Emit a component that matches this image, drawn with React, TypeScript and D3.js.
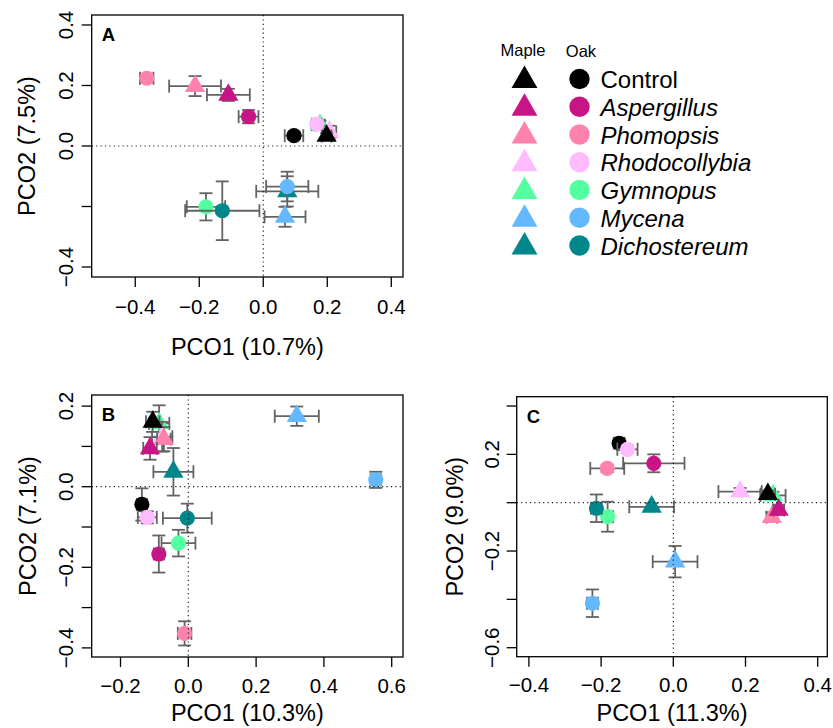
import React from "react"
import * as d3 from "d3"

const groups = ["Control", "Aspergillus", "Phomopsis", "Rhodocollybia", "Gymnopus", "Mycena", "Dichostereum"]
const colors = ["#000000", "#C71585", "#FF82AB", "#FFBBFF", "#54FF9F", "#63B8FF", "#00868B"]

// panel A
const aMapleX = [0.198, -0.109, -0.213, 0.206, 0.177, 0.068, 0.075]
const aMapleY = [0.033, 0.169, 0.198, 0.047, 0.069, -0.234, -0.15]
const aMapleXErr = [0.015, 0.067, 0.081, 0.022, 0.015, 0.064, 0.097]
const aMapleYErr = [0.01, 0.02, 0.033, 0.02, 0.015, 0.033, 0.05]
const aOakX = [0.096, -0.046, -0.364, 0.167, -0.179, 0.075, -0.128]
const aOakY = [0.034, 0.097, 0.224, 0.072, -0.201, -0.134, -0.214]
const aOakXErr = [0.029, 0.031, 0.021, 0.015, 0.06, 0.066, 0.116]
const aOakYErr = [0.012, 0.022, 0.012, 0.012, 0.045, 0.049, 0.097]

// panel B
const bMapleX = [-0.105, -0.113, -0.072, -0.077, -0.086, 0.32, -0.044]
const bMapleY = [0.161, 0.095, 0.118, 0.124, 0.157, 0.175, 0.037]
const bMapleXErr = [0.02, 0.02, 0.02, 0.03, 0.03, 0.065, 0.059]
const bMapleYErr = [0.025, 0.028, 0.03, 0.037, 0.045, 0.024, 0.059]
const bOakX = [-0.137, -0.087, -0.011, -0.121, -0.029, 0.553, -0.003]
const bOakY = [-0.044, -0.167, -0.364, -0.076, -0.14, 0.017, -0.078]
const bOakXErr = [0.015, 0.015, 0.02, 0.028, 0.05, 0.015, 0.072]
const bOakYErr = [0.04, 0.046, 0.03, 0.015, 0.033, 0.02, 0.036]

// panel C
const cMapleX = [0.262, 0.292, 0.273, 0.185, 0.276, 0.005, -0.06]
const cMapleY = [0.035, -0.03, -0.06, 0.046, 0.03, -0.244, -0.017]
const cMapleXErr = [0.02, 0.015, 0.015, 0.06, 0.035, 0.062, 0.062]
const cMapleYErr = [0.015, 0.02, 0.02, 0.015, 0.015, 0.065, 0.015]
const cOakX = [-0.15, -0.054, -0.183, -0.127, -0.182, -0.224, -0.213]
const cOakY = [0.246, 0.163, 0.142, 0.221, -0.058, -0.416, -0.023]
const cOakXErr = [0.015, 0.085, 0.047, 0.028, 0.015, 0.015, 0.015]
const cOakYErr = [0.015, 0.037, 0.015, 0.015, 0.062, 0.057, 0.057]

const aXTicks = [-0.4, -0.2, 0, 0.2, 0.4]
const aYTicks = [-0.4, -0.2, 0, 0.2, 0.4]
const aYLabels = [-0.4, 0, 0.2, 0.4]
const bXTicks = [-0.2, 0, 0.2, 0.4, 0.6]
const bYTicks = [-0.4, -0.3, -0.2, -0.1, 0, 0.1, 0.2]
const bYLabels = [-0.4, -0.2, 0, 0.2]
const cXTicks = [-0.4, -0.2, 0, 0.2, 0.4]
const cYTicks = [-0.6, -0.4, -0.2, 0, 0.2, 0.4]
const cYLabels = [-0.6, -0.2, 0.2]

const font = "'Liberation Sans', Arial, sans-serif"
const fmt = d3.format(".1f")
const errColor = "#636363"
const tri = d3.symbol().type(d3.symbolTriangle).size(178)()
const legendTri = d3.symbol().type(d3.symbolTriangle).size(290)()

type Series = { x: number[]; y: number[]; xe: number[]; ye: number[] }

function ErrBars({ cx, cy, x0, x1, y0, y1 }: any) {
  const cap = 6.5
  return (
    <g stroke={errColor} strokeWidth={1.8} fill="none">
      <line x1={x0} x2={x1} y1={cy} y2={cy} />
      <line x1={x0} x2={x0} y1={cy - cap} y2={cy + cap} />
      <line x1={x1} x2={x1} y1={cy - cap} y2={cy + cap} />
      <line x1={cx} x2={cx} y1={y0} y2={y1} />
      <line x1={cx - cap} x2={cx + cap} y1={y0} y2={y0} />
      <line x1={cx - cap} x2={cx + cap} y1={y1} y2={y1} />
    </g>
  )
}

function Panel(props: any) {
  const { label, box, xDomain, yDomain, xTicks, yTicks, yLabels, xTitle, yTitle, maple, oak, yLabX, yTitleX, xLabY, xTitleY } = props
  const x = d3.scaleLinear().domain(xDomain).range([box.left, box.right])
  const y = d3.scaleLinear().domain(yDomain).range([box.bottom, box.top])
  const m: Series = maple
  const o: Series = oak
  // maple triangles go down in reverse order, oak circles in order
  const mapleOrder = d3.range(groups.length).reverse()
  const oakOrder = d3.range(groups.length)
  const midX = (box.left + box.right) / 2
  const midY = (box.top + box.bottom) / 2
  return (
    <g fontFamily={font}>
      {mapleOrder.map(i => (
        <g key={"m" + i}>
          <ErrBars cx={x(m.x[i])} cy={y(m.y[i])} x0={x(m.x[i] - m.xe[i])} x1={x(m.x[i] + m.xe[i])}
            y0={y(m.y[i] - m.ye[i])} y1={y(m.y[i] + m.ye[i])} />
          <path d={tri!} transform={`translate(${x(m.x[i])},${y(m.y[i])})`} fill={colors[i]} />
        </g>
      ))}
      {oakOrder.map(i => (
        <g key={"o" + i}>
          <ErrBars cx={x(o.x[i])} cy={y(o.y[i])} x0={x(o.x[i] - o.xe[i])} x1={x(o.x[i] + o.xe[i])}
            y0={y(o.y[i] - o.ye[i])} y1={y(o.y[i] + o.ye[i])} />
          <circle cx={x(o.x[i])} cy={y(o.y[i])} r={7.6} fill={colors[i]} />
        </g>
      ))}
      <line x1={box.left} x2={box.right} y1={y(0)} y2={y(0)} stroke="#222" strokeWidth={1.2} strokeDasharray="1.2,3.2" />
      <line x1={x(0)} x2={x(0)} y1={box.top} y2={box.bottom} stroke="#222" strokeWidth={1.2} strokeDasharray="1.2,3.2" />
      <rect x={box.left} y={box.top} width={box.right - box.left} height={box.bottom - box.top} fill="none" stroke="#000" strokeWidth={1.3} />
      {xTicks.map((t: number) => (
        <g key={"xt" + t}>
          <line x1={x(t)} x2={x(t)} y1={box.bottom} y2={box.bottom + 10} stroke="#000" strokeWidth={1.3} />
          <text x={x(t)} y={xLabY} textAnchor="middle" fontSize={20.5}>{fmt(t)}</text>
        </g>
      ))}
      {yTicks.map((t: number) => (
        <line key={"yt" + t} x1={box.left - 10} x2={box.left} y1={y(t)} y2={y(t)} stroke="#000" strokeWidth={1.3} />
      ))}
      {yLabels.map((t: number) => (
        <text key={"yl" + t} transform={`translate(${yLabX},${y(t)}) rotate(-90)`} textAnchor="middle" fontSize={20.5}>{fmt(t)}</text>
      ))}
      <text x={midX} y={xTitleY} textAnchor="middle" fontSize={23.5}>{xTitle}</text>
      <text transform={`translate(${yTitleX},${midY}) rotate(-90)`} textAnchor="middle" fontSize={23.5}>{yTitle}</text>
      <text x={box.left + 10} y={box.top + 26} fontSize={18.5} fontWeight="bold">{label}</text>
    </g>
  )
}

function Legend() {
  const rowY = d3.scaleLinear().domain([0, groups.length - 1]).range([79, 245.5])
  return (
    <g fontFamily={font}>
      <text x={523} y={55.5} textAnchor="middle" fontSize={16.5}>Maple</text>
      <text x={581} y={57} textAnchor="middle" fontSize={16.5}>Oak</text>
      {groups.map((g, i) => (
        <g key={g}>
          <path d={legendTri!} transform={`translate(524.5,${rowY(i) + 1.5})`} fill={colors[i]} />
          <circle cx={579.5} cy={rowY(i)} r={10.2} fill={colors[i]} />
          <text x={600.5} y={rowY(i) + 9} fontSize={24} fontStyle={i === 0 ? "normal" : "italic"}>{g}</text>
        </g>
      ))}
    </g>
  )
}

export default function App() {
  return (
    <svg width={833} height={728} style={{ position: "absolute", left: 0, top: 0, background: "#fff" }}>
      <Panel label="A" box={{ left: 91.7, right: 403, top: 15, bottom: 277 }}
        xDomain={[-0.536, 0.4366]} yDomain={[-0.433, 0.433]}
        xTicks={aXTicks} yTicks={aYTicks} yLabels={aYLabels}
        xTitle="PCO1 (10.7%)" yTitle="PCO2 (7.5%)"
        maple={{ x: aMapleX, y: aMapleY, xe: aMapleXErr, ye: aMapleYErr }}
        oak={{ x: aOakX, y: aOakY, xe: aOakXErr, ye: aOakYErr }}
        yLabX={73} yTitleX={35} xLabY={314} xTitleY={355} />
      <Panel label="B" box={{ left: 91.7, right: 403, top: 395, bottom: 657 }}
        xDomain={[-0.285, 0.6333]} yDomain={[-0.4226, 0.2276]}
        xTicks={bXTicks} yTicks={bYTicks} yLabels={bYLabels}
        xTitle="PCO1 (10.3%)" yTitle="PCO2 (7.1%)"
        maple={{ x: bMapleX, y: bMapleY, xe: bMapleXErr, ye: bMapleYErr }}
        oak={{ x: bOakX, y: bOakY, xe: bOakXErr, ye: bOakYErr }}
        yLabX={73} yTitleX={36} xLabY={693} xTitleY={721} />
      <Panel label="C" box={{ left: 516.7, right: 827.3, top: 396.7, bottom: 656.7 }}
        xDomain={[-0.4338, 0.4266]} yDomain={[-0.6372, 0.4386]}
        xTicks={cXTicks} yTicks={cYTicks} yLabels={cYLabels}
        xTitle="PCO1 (11.3%)" yTitle="PCO2 (9.0%)"
        maple={{ x: cMapleX, y: cMapleY, xe: cMapleXErr, ye: cMapleYErr }}
        oak={{ x: cOakX, y: cOakY, xe: cOakXErr, ye: cOakYErr }}
        yLabX={499} yTitleX={463} xLabY={692} xTitleY={721} />
      <Legend />
    </svg>
  )
}
